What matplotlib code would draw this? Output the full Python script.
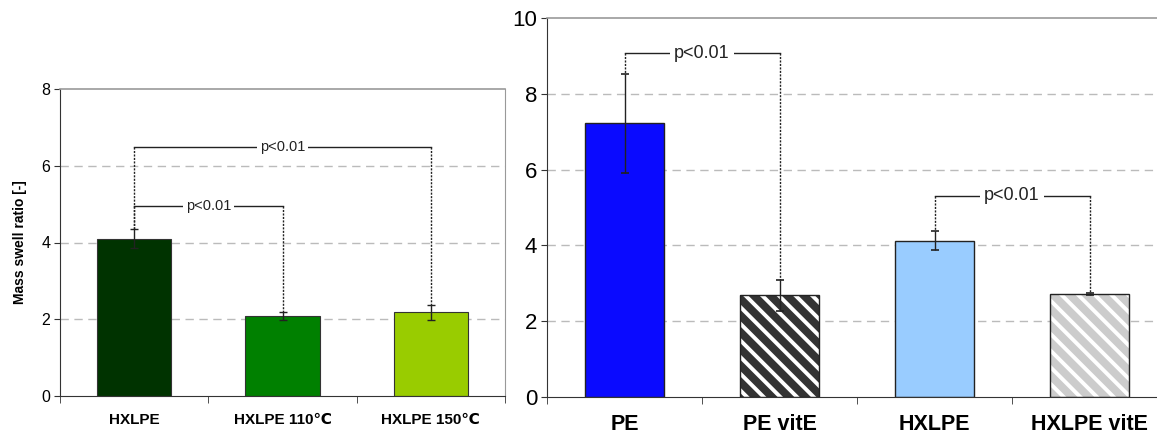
import matplotlib
matplotlib.use('Agg')
import matplotlib.pyplot as plt
import numpy as np

plt.rcParams['font.family'] = ['Liberation Sans', 'DejaVu Sans']
plt.rcParams['hatch.linewidth'] = 2.8

# left panel data
left_labels = ['HXLPE', 'HXLPE 110\u2103', 'HXLPE 150\u2103']
left_means = [4.1, 2.09, 2.18]
left_err = [0.245, 0.11, 0.19]
left_colors = ['#003300', '#008000', '#99cc00']
left_pairs = [(0, 1, 4.95), (0, 2, 6.5)]

# right panel data
right_labels = ['PE', 'PE vitE', 'HXLPE', 'HXLPE vitE']
right_means = [7.22, 2.68, 4.12, 2.72]
right_err = [1.3, 0.42, 0.25, 0.03]
right_colors = ['#0a0aff', '#333333', '#99ccff', '#cccccc']
right_hatched = [False, True, False, True]
right_pairs = [(0, 1, 9.07), (2, 3, 5.31)]

W, H = 1157, 438
fig = plt.figure(figsize=(W / 100, H / 100), dpi=100)


def px_axes(x0, y0, x1, y1):
    # pixel box (top-left origin) -> figure coords
    return fig.add_axes([x0 / W, 1 - y1 / H, (x1 - x0) / W, (y1 - y0) / H])


def style_axes(ax, ymax, tick_size, label_size):
    ax.set_ylim(0, ymax)
    ax.set_yticks(np.arange(0, ymax + 1, 2))
    for y in np.arange(2, ymax, 2):
        ax.axhline(y, color='#bbbbbb', lw=1, ls=(0, (6, 4)), zorder=0)
    ax.spines['left'].set_color('#333333')
    ax.spines['bottom'].set_color('#333333')
    ax.spines['top'].set_color('#999999')
    ax.spines['right'].set_color('#999999')
    ax.spines['top'].set_linewidth(1.2)
    ax.spines['right'].set_linewidth(0.8)
    ax.tick_params(axis='y', labelsize=tick_size, length=4, color='#333333', pad=3)
    ax.tick_params(axis='x', which='major', length=0, labelsize=label_size, pad=12)
    ax.tick_params(axis='x', which='minor', length=5, color='#333333')


def brackets(ax, means, errs, pairs, fs, gap):
    for a, b, y in pairs:
        ax.plot([a, b], [y, y], color='#222222', lw=1, zorder=3)
        for i in (a, b):
            ax.plot([i, i], [y, means[i] + errs[i]], color='#222222', lw=1,
                    ls=(0, (1.5, 1)), zorder=3)
        ax.text((a + b) / 2, y, 'p<0.01', ha='center', va='center', fontsize=fs,
                color='#222222', zorder=4,
                bbox=dict(facecolor='white', edgecolor='none', pad=gap))


# left chart
ax1 = px_axes(60, 89, 505, 396)
x1 = np.arange(len(left_labels))
ax1.bar(x1, left_means, width=0.5, color=left_colors, edgecolor='#333333', lw=0.8, zorder=2)
ax1.errorbar(x1, left_means, yerr=left_err, fmt='none', ecolor='#222222', elinewidth=1,
             capsize=3, capthick=1, zorder=3)
ax1.set_xlim(-0.5, 2.5)
ax1.set_xticks(x1)
ax1.set_xticklabels(left_labels, fontweight='bold')
ax1.set_xticks([-0.5, 0.5, 1.5, 2.5], minor=True)
style_axes(ax1, 8, 11.5, 11)
ax1.set_ylabel('Mass swell ratio [-]', fontsize=10, fontweight='bold', labelpad=10)
brackets(ax1, left_means, left_err, left_pairs, 10.5, 2)

# right chart
ax2 = px_axes(547, 18, 1167, 397)
x2 = np.arange(len(right_labels))
for i in x2:
    if right_hatched[i]:
        ax2.bar(i, right_means[i], width=0.51, color=right_colors[i], edgecolor='white',
                hatch='\\\\', lw=0, zorder=2)
        ax2.bar(i, right_means[i], width=0.51, fill=False, edgecolor='#222222', lw=1, zorder=2)
    else:
        ax2.bar(i, right_means[i], width=0.51, color=right_colors[i], edgecolor='#222222',
                lw=1, zorder=2)
ax2.errorbar(x2, right_means, yerr=right_err, fmt='none', ecolor='#222222', elinewidth=1,
             capsize=3, capthick=1.2, zorder=3)
ax2.set_xlim(-0.5, 3.5)
ax2.set_xticks(x2)
ax2.set_xticklabels(right_labels, fontweight='bold')
ax2.set_xticks([-0.5, 0.5, 1.5, 2.5], minor=True)
style_axes(ax2, 10, 16, 15.5)
ax2.tick_params(axis='x', which='major', pad=12)
brackets(ax2, right_means, right_err, right_pairs, 13, 3)

fig.savefig('out.png', dpi=100)
